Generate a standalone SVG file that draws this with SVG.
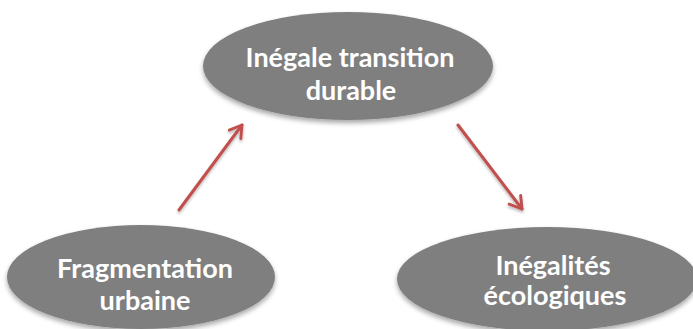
<svg xmlns="http://www.w3.org/2000/svg" width="693" height="329" viewBox="0 0 693 329">
  <style>
    .node ellipse { fill: #7f7f7f; filter: url(#shadow); }
    .node text { fill: #ffffff; font-family: Lato, "Open Sans", "Liberation Sans", sans-serif; font-weight: bold; font-size: 27px; text-anchor: middle; }
    .edge { stroke: #c0504d; stroke-width: 3; fill: none; stroke-linecap: round; marker-end: url(#head); filter: url(#eshadow); }
  </style>
  <defs>
    <filter id="shadow" x="-10%" y="-10%" width="120%" height="130%">
      <feGaussianBlur in="SourceAlpha" stdDeviation="2.5"/>
      <feOffset dx="0" dy="3" result="b"/>
      <feComponentTransfer><feFuncA type="linear" slope="0.35"/></feComponentTransfer>
      <feMerge><feMergeNode/><feMergeNode in="SourceGraphic"/></feMerge>
    </filter>
    <filter id="eshadow" x="-20%" y="-20%" width="140%" height="140%">
      <feGaussianBlur in="SourceAlpha" stdDeviation="1.5"/>
      <feOffset dx="0" dy="2" result="b"/>
      <feComponentTransfer><feFuncA type="linear" slope="0.3"/></feComponentTransfer>
      <feMerge><feMergeNode/><feMergeNode in="SourceGraphic"/></feMerge>
    </filter>
    <!-- open chevron arrowhead -->
    <marker id="head" viewBox="0 0 10 10" refX="8.5" refY="5" markerWidth="6" markerHeight="6" orient="auto" markerUnits="strokeWidth">
      <path d="M2,1 L8.5,5 L2,9" fill="none" stroke="#c0504d" stroke-width="1.6" stroke-linecap="round" stroke-linejoin="round"/>
    </marker>
  </defs>

  <g id="connectors">
    <line class="edge" x1="179" y1="210" x2="242" y2="125"/>
    <line class="edge" x1="458" y1="125" x2="522" y2="209"/>
    <line class="edge" x1="379" y1="276" x2="302" y2="276"/>
  </g>

  <g id="transition" class="node">
    <ellipse cx="348" cy="66" rx="145" ry="54"/>
    <text x="350" y="67">Inégale transition</text>
    <text x="351" y="100">durable</text>
  </g>

  <g id="fragmentation" class="node">
    <ellipse cx="141" cy="277" rx="134" ry="52"/>
    <text x="145" y="278">Fragmentation</text>
    <text x="145" y="310">urbaine</text>
  </g>

  <g id="inegalites" class="node">
    <ellipse cx="547" cy="279" rx="150" ry="52"/>
    <text x="553" y="275">Inégalités</text>
    <text x="555" y="305">écologiques</text>
  </g>
</svg>
